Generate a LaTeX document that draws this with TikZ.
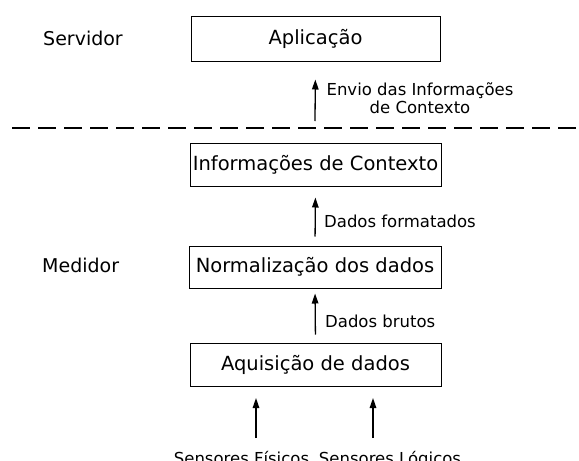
\documentclass[tikz,border=0pt]{standalone}
\usepackage{fontspec}
\setmainfont{DejaVu Sans}
\usetikzlibrary{arrows.meta}
\begin{document}
\begin{tikzpicture}[x=1pt,y=-1pt,
  boxnode/.style={draw,line width=1pt,minimum width=251pt,minimum height=43pt,inner sep=0pt,font=\fontsize{19.5}{23}\selectfont},
  sidelabel/.style={inner sep=0pt,anchor=base west,font=\fontsize{19}{23}\selectfont},
  arrlabel/.style={inner sep=0pt,font=\fontsize{16.5}{17.5}\selectfont},
  arr/.style={line width=1.3pt,-{Triangle[length=10pt,width=6.5pt]}}]
\useasboundingbox (0,0) rectangle (579,461);
% boxes
\node[boxnode,minimum width=249pt,minimum height=45pt] (app) at (315.5,38.5) {Aplicação};
\node[boxnode] (inf) at (315.5,164.5) {Informações de Contexto};
\node[boxnode,minimum width=252pt,minimum height=42pt] (norm) at (315,267) {Normalização dos dados};
\node[boxnode] (aq) at (315.5,364.5) {Aquisição de dados};
% side labels
\node[sidelabel] (serv) at (43,45) {Servidor};
\node[sidelabel] (med) at (42,272) {Medidor};
% dashed separator
\coordinate (dl) at (12,128);
\coordinate (dr) at (579,128);
\draw[line width=1.8pt,dash pattern=on 18pt off 8pt] (dl) -- (dr);
% arrows
\coordinate (envS) at (315,121);
\draw[arr,shorten >=18pt] (envS) -- (app.south);
\draw[arr,shorten <=9pt,shorten >=11pt] (norm.north) -- (inf.south);
\draw[arr,shorten <=8pt,shorten >=5pt] (aq.north) -- (norm.south);
\coordinate (sf) at (256,438);
\coordinate (sl) at (373,438);
\coordinate (sft) at (256,386);
\coordinate (slt) at (373,386);
\draw[arr,shorten >=12pt] (sf) -- (sft);
\draw[arr,shorten >=12pt] (sl) -- (slt);
% arrow labels
\node[arrlabel,align=center] (envl) at (420,98) {Envio das Informações\\de Contexto};
\node[arrlabel,anchor=base west] (fmt) at (324,227) {Dados formatados};
\node[arrlabel,anchor=base west] (brt) at (325,327) {Dados brutos};
\node[arrlabel,anchor=base] (sfl) at (241.5,464) {Sensores Físicos};
\node[arrlabel,anchor=base] (sll) at (390,464) {Sensores Lógicos};
\end{tikzpicture}
\end{document}
